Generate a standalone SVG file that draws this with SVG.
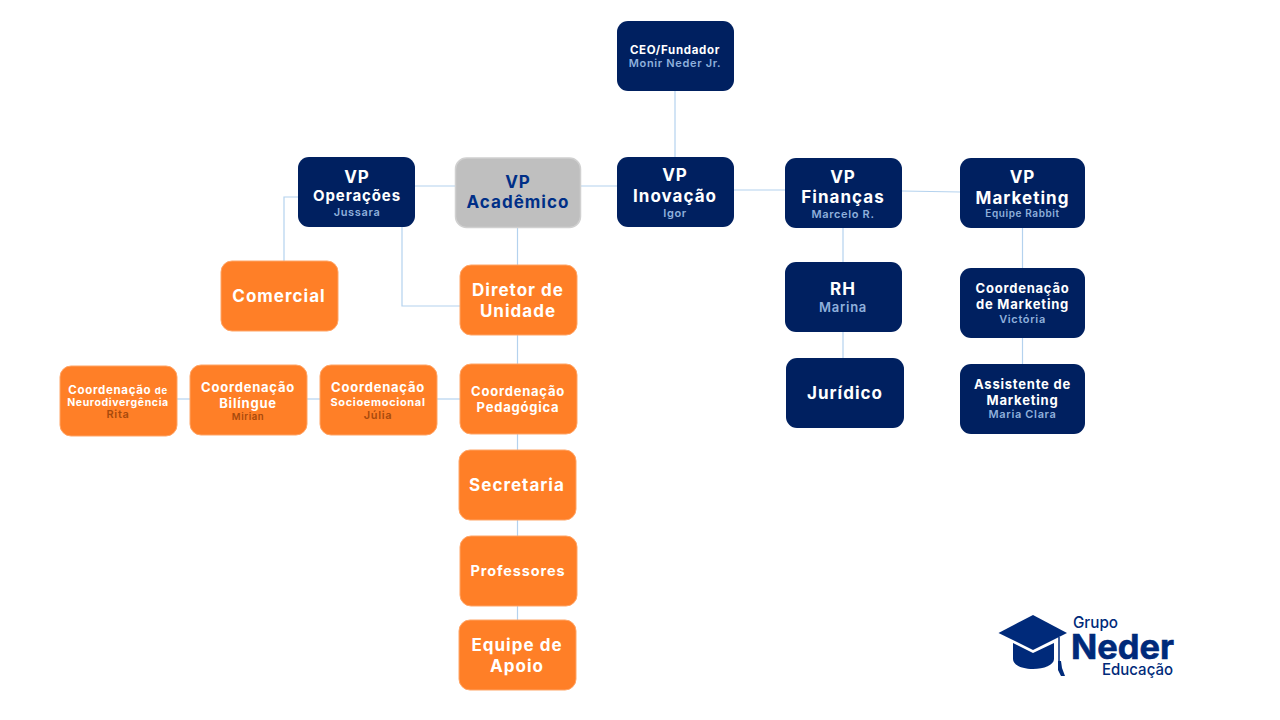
<svg xmlns="http://www.w3.org/2000/svg" width="1280" height="720" viewBox="0 0 1280 720">
<style>
text{font-family:"Inter","Liberation Sans",Arial,sans-serif;text-anchor:middle;font-weight:700;letter-spacing:.06em}
.navy rect{fill:#002060}
.orange rect{fill:#ff7f27;stroke:#ffa566;stroke-width:1}
.gray rect{fill:#bfbfbf;stroke:#d0d0d0;stroke-width:1.5}
.navy text,.orange text{fill:#fff}
.gray text{fill:#002f87}
text.sub{fill:#8fb0dc;font-size:11px;font-weight:600}
text.osub{fill:#a84a0c;font-size:11px;font-weight:600}
#connectors path{fill:none;stroke:#b4d2ee;stroke-width:1.2}
.logo text{fill:#002a7a;text-anchor:start;letter-spacing:0}
</style>
<rect width="1280" height="720" fill="#fff"/>
<g id="connectors">
<path d="M675 91V157"/>
<path d="M415 186H456"/>
<path d="M580 186H617"/>
<path d="M734 190H785"/>
<path d="M902 191L960 192"/>
<path d="M298 197H284V261"/>
<path d="M402 227V306H460"/>
<path d="M517.500 227V265"/>
<path d="M517.500 335V364"/>
<path d="M517.500 434V450"/>
<path d="M517.500 520V536"/>
<path d="M517.500 606V620"/>
<path d="M843 228V262"/>
<path d="M843 332V358"/>
<path d="M1022.500 228V268"/>
<path d="M1022.500 338V364"/>
<path d="M177 399H190"/>
<path d="M307 399H320"/>
<path d="M437 399H460"/>
</g>
<g id="ceo" class="navy"><rect x="617" y="21" width="117" height="70" rx="11"/><text x="675" y="54" font-size="11.500">CEO/Fundador</text><text class="sub" x="675" y="67">Monir Neder Jr.</text></g>
<g id="vp-operacoes" class="navy"><rect x="298" y="157" width="117" height="70" rx="11"/><text x="357" y="183" font-size="17">VP</text><text x="357" y="201" font-size="15">Operações</text><text class="sub" x="357" y="216">Jussara</text></g>
<g id="vp-academico" class="gray"><rect x="455.500" y="158" width="125" height="69.500" rx="11"/><text x="518" y="188" font-size="17">VP</text><text x="518" y="208" font-size="17">Acadêmico</text></g>
<g id="vp-inovacao" class="navy"><rect x="617" y="157" width="117" height="70" rx="11"/><text x="675" y="181" font-size="17">VP</text><text x="675" y="201.500" font-size="17">Inovação</text><text class="sub" x="675" y="217">Igor</text></g>
<g id="vp-financas" class="navy"><rect x="785" y="158" width="117" height="70" rx="11"/><text x="843" y="183" font-size="17">VP</text><text x="843" y="203" font-size="17">Finanças</text><text class="sub" x="843" y="218">Marcelo R.</text></g>
<g id="vp-marketing" class="navy"><rect x="960" y="158" width="125" height="70" rx="11"/><text x="1022.500" y="183" font-size="17">VP</text><text x="1022.500" y="204" font-size="17">Marketing</text><text class="sub" x="1022.500" y="217" style="font-size:10px">Equipe Rabbit</text></g>
<g id="comercial" class="orange"><rect x="221" y="261" width="117" height="70" rx="11"/><text x="279" y="302" font-size="17">Comercial</text></g>
<g id="diretor" class="orange"><rect x="460" y="265" width="117" height="70" rx="11"/><text x="518" y="296" font-size="17">Diretor de</text><text x="518" y="317" font-size="17">Unidade</text></g>
<g id="coord-pedagogica" class="orange"><rect x="460" y="364" width="117" height="70" rx="11"/><text x="518" y="396" font-size="13">Coordenação</text><text x="518" y="412" font-size="13">Pedagógica</text></g>
<g id="secretaria" class="orange"><rect x="459" y="450" width="117" height="70" rx="11"/><text x="517" y="490.500" font-size="17">Secretaria</text></g>
<g id="professores" class="orange"><rect x="460" y="536" width="117" height="70" rx="11"/><text x="518" y="576" font-size="14.500">Professores</text></g>
<g id="equipe-apoio" class="orange"><rect x="459" y="620" width="117" height="70" rx="11"/><text x="517" y="651" font-size="17">Equipe de</text><text x="517" y="672" font-size="17">Apoio</text></g>
<g id="rh" class="navy"><rect x="785" y="262" width="117" height="70" rx="11"/><text x="843" y="295" font-size="17">RH</text><text class="sub" x="843" y="312" style="font-size:13px">Marina</text></g>
<g id="juridico" class="navy"><rect x="786" y="358" width="118" height="70" rx="11"/><text x="845" y="399" font-size="17">Jurídico</text></g>
<g id="coord-marketing" class="navy"><rect x="960" y="268" width="125" height="70" rx="11"/><text x="1022.500" y="293" font-size="13">Coordenação</text><text x="1022.500" y="309" font-size="13">de Marketing</text><text class="sub" x="1022.500" y="323">Victória</text></g>
<g id="assistente" class="navy"><rect x="960" y="364" width="125" height="70" rx="11"/><text x="1022.500" y="389" font-size="13">Assistente de</text><text x="1022.500" y="405" font-size="13">Marketing</text><text class="sub" x="1022.500" y="418">Maria Clara</text></g>
<g id="coord-neuro" class="orange"><rect x="60" y="366" width="117" height="70" rx="11"/><text x="118" y="394" font-size="11.500">Coordenação <tspan font-size="9.500">de</tspan></text><text x="118" y="406" font-size="10.500">Neurodivergência</text><text class="osub" x="118" y="418">Rita</text></g>
<g id="coord-bilingue" class="orange"><rect x="190" y="365" width="117" height="70" rx="11"/><text x="248" y="392" font-size="13">Coordenação</text><text x="248" y="408" font-size="13">Bilíngue</text><text class="osub" x="248" y="420" style="font-size:9.500px">Mirian</text></g>
<g id="coord-socio" class="orange"><rect x="320" y="365" width="117" height="70" rx="11"/><text x="378" y="392" font-size="13">Coordenação</text><text x="378" y="406" font-size="11">Socioemocional</text><text class="osub" x="378" y="419">Júlia</text></g>
<g id="logo" class="logo">
<path d="M1033 615L1067 633L1033 650L998.500 633Z" fill="#002a7a"/>
<path d="M1013 643L1033 653L1054 643V659C1054 665 1044 669 1033 669C1022 669 1013 665 1013 659Z" fill="#002a7a"/>
<path d="M1059 637V662" stroke="#002a7a" stroke-width="1.500" fill="none"/>
<path d="M1058 661H1061L1062 668L1065 676H1061L1058 670Z" fill="#002a7a"/>
<text x="1073" y="628" font-size="16" textLength="45" lengthAdjust="spacingAndGlyphs" style="font-weight:500">Grupo</text>
<text x="1071" y="659" font-size="34" textLength="103" lengthAdjust="spacingAndGlyphs" stroke="#002a7a" stroke-width=".6">Neder</text>
<text x="1102" y="675" font-size="15.500" textLength="71" lengthAdjust="spacingAndGlyphs" style="font-weight:500">Educação</text>
</g>
</svg>
